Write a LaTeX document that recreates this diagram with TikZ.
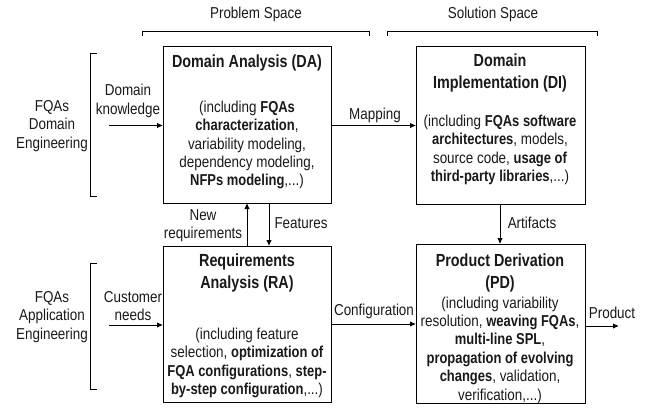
\documentclass[tikz,border=0pt]{standalone}
\usepackage{fontspec}
\setmainfont[FakeStretch=0.85,BoldFeatures={FakeStretch=0.82}]{Liberation Sans}
\usetikzlibrary{arrows.meta}
\begin{document}
\begin{tikzpicture}[x=1pt,y=-1pt,
  every node/.style={inner sep=0pt,outer sep=0pt,text=black!90},
  box/.style={draw,line width=0.9pt,anchor=north west},
  body/.style={align=center,font=\fontsize{15.8}{18.4}\selectfont},
  title/.style={align=center,font=\fontsize{17.5}{21.5}\selectfont\bfseries},
  lbl/.style={align=center,font=\fontsize{15.8}{18.4}\selectfont},
  arr/.style={line width=0.9pt,-{Latex[length=6pt,width=5.5pt]}},
  brk/.style={line width=0.9pt}]
\useasboundingbox (0,0) rectangle (650,409);

% process boxes
\node[box,minimum width=168pt,minimum height=157pt] (da) at (163,46) {};
\node[box,minimum width=169pt,minimum height=158pt] (di) at (416,46) {};
\node[box,minimum width=168pt,minimum height=156pt] (ra) at (163,246) {};
\node[box,minimum width=169pt,minimum height=159pt] (pd) at (416,244) {};

% box texts
\node[title] (daT) at (247,63) {Domain Analysis (DA)};
\node[body] (daB) at (247,145) {(including \textbf{FQAs}\\\textbf{characterization},\\variability modeling,\\dependency modeling,\\\textbf{NFPs modeling},...)};
\node[title] (diT) at (500,73) {Domain\\Implementation (DI)};
\node[body] (diB) at (500,150) {(including \textbf{FQAs software}\\\textbf{architectures}, models,\\source code, \textbf{usage of}\\\textbf{third-party libraries},...)};
\node[title] (raT) at (247,273) {Requirements\\Analysis (RA)};
\node[body] (raB) at (247,363) {(including feature\\selection, \textbf{optimization of}\\\textbf{FQA configurations}, \textbf{step-}\\\textbf{by-step configuration},...)};
\node[title] (pdT) at (500,273) {Product Derivation\\(PD)};
\node[body] (pdB) at (500,350) {(including variability\\resolution, \textbf{weaving FQAs},\\\textbf{multi-line SPL},\\\textbf{propagation of evolving}\\\textbf{changes}, validation,\\verification,...)};

% space headers and brackets
\node[lbl] (ps) at (256,14) {Problem Space};
\node[lbl] (ss) at (493,14) {Solution Space};
\draw[brk] (142,36) -- (142,31) -- (369,31) -- (369,36);
\draw[brk] (387,36) -- (387,31) -- (597,31) -- (597,36);

% engineering side labels and brackets
\node[lbl] (de) at (52,126) {FQAs\\Domain\\Engineering};
\node[lbl] (ae) at (52,317) {FQAs\\Application\\Engineering};
\draw[brk] (97,53) -- (90,53) -- (90,196) -- (97,196);
\draw[brk] (97,263) -- (90,263) -- (90,389) -- (97,389);

% inputs and outputs
\coordinate (dkS) at (109,125.5);
\coordinate (cnS) at (109,325);
\coordinate (prE) at (619,326);
\draw[arr] (dkS) -- (dkS -| da.west);
\node[lbl] (dk) at (128,101) {Domain\\knowledge};
\draw[arr] (cnS) -- (cnS -| ra.west);
\node[lbl] (cn) at (133,306) {Customer\\needs};
\draw[arr] (prE -| pd.east) -- (prE);
\node[lbl] (pr) at (612,313) {Product};

% flows between boxes
\coordinate (mp) at (0,125.5);
\draw[arr] (mp -| da.east) -- (mp -| di.west);
\node[lbl] (mpL) at (375,115) {Mapping};
\coordinate (cf) at (0,324);
\draw[arr] (cf -| ra.east) -- (cf -| pd.west);
\node[lbl] (cfL) at (374,311.5) {Configuration};
\coordinate (af) at (500,0);
\draw[arr] (af |- di.south) -- (af |- pd.north);
\node[lbl] (afL) at (532,223) {Artifacts};
\coordinate (ft) at (269,0);
\draw[arr] (ft |- da.south) -- (ft |- ra.north);
\node[lbl] (ftL) at (301,223) {Features};
\coordinate (nr) at (247,0);
\draw[arr] (nr |- ra.north) -- (nr |- da.south);
\node[lbl] (nrL) at (203,226) {New\\requirements};
\end{tikzpicture}
\end{document}
